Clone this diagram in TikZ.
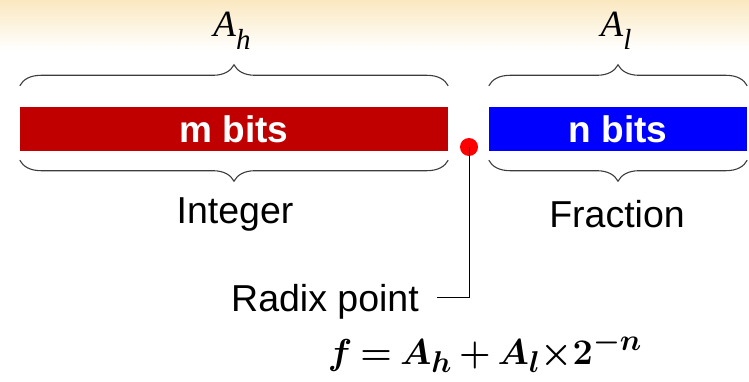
\documentclass[tikz,border=0pt]{standalone}
\usepackage{amsmath}
\usepackage{graphicx}
\usepackage[no-math]{fontspec}
\setmainfont{Liberation Sans}
\newfontfamily\serifface{Liberation Serif}
\usetikzlibrary{decorations.pathreplacing,positioning,calc}
\definecolor{intfill}{RGB}{192,0,0}
\definecolor{fracfill}{RGB}{0,0,255}
\definecolor{radixdot}{RGB}{255,0,0}
\definecolor{braceline}{RGB}{60,60,60}
\definecolor{bandtop}{RGB}{250,232,192}
\newcommand{\partsym}[2]{{\serifface\itshape #1\raisebox{-13pt}{\fontsize{29}{29}\selectfont #2}}}

\begin{document}
\begin{tikzpicture}[
  x=1pt,y=1pt,
  bitbar/.style={minimum height=44pt,inner sep=0pt,text=white,
    font=\fontsize{37}{40}\selectfont\bfseries},
  topbrace/.style={decorate,decoration={brace,amplitude=21pt},
    draw=braceline,line width=1.1pt},
  lowbrace/.style={decorate,decoration={brace,mirror,amplitude=21pt},
    draw=braceline,line width=1.1pt},
  fieldname/.style={font=\fontsize{37.5}{40}\selectfont,inner sep=0pt},
  partname/.style={font=\fontsize{37}{40}\selectfont,inner sep=0pt},
  leader/.style={draw=black,line width=0.9pt},
  formula/.style={font=\fontsize{24.88}{30}\selectfont,inner sep=0pt}
]
\useasboundingbox (0,0) rectangle (749,381);
\shade[top color=bandtop,bottom color=white] (0,331) rectangle (749,381);

% -------------------------------------------------------------------------
% The two bit fields and the radix point between them.
% -------------------------------------------------------------------------
\node[bitbar,fill=intfill,minimum width=428pt] (intbar) at (234,252) {m bits};
\node[bitbar,fill=fracfill,minimum width=258pt] (fracbar) at (618,252) {n bits};
\node[circle,fill=radixdot,minimum size=18pt,inner sep=0pt] (radix) at (469,234) {};

% Braces above and below each field.
\draw[topbrace] ([yshift=21pt]intbar.north west) -- ([yshift=21pt]intbar.north east);
\draw[topbrace] ([yshift=21pt]fracbar.north west) -- ([yshift=21pt]fracbar.north east);
\draw[lowbrace] ([yshift=-9pt]intbar.south west) -- ([yshift=-9pt]intbar.south east);
\draw[lowbrace] ([yshift=-9pt]fracbar.south west) -- ([yshift=-9pt]fracbar.south east);

\node[partname] (ahigh) at (232,350) {\partsym{A}{h}};
\node[partname] (alow) at (616,350) {\partsym{A}{l}};
\node[fieldname] (intname) at (235,167) {Integer};
\node[fieldname] (fracname) at (617,167) {Fraction};

% -------------------------------------------------------------------------
% Radix point callout and the value of the number.
% -------------------------------------------------------------------------
\node[fieldname,anchor=base east] (radixname) at (419,70) {Radix point};
\coordinate (bend) at (437,84);
\draw[leader] (radix.center) |- (bend);
\node[formula] (fvalue) at (485,29)
  {\scalebox{1.45}{\thickmuskip=3.5mu\medmuskip=3mu$\boldsymbol{f=A_h+A_l{\times}2^{-n}}$}};
\end{tikzpicture}
\end{document}
